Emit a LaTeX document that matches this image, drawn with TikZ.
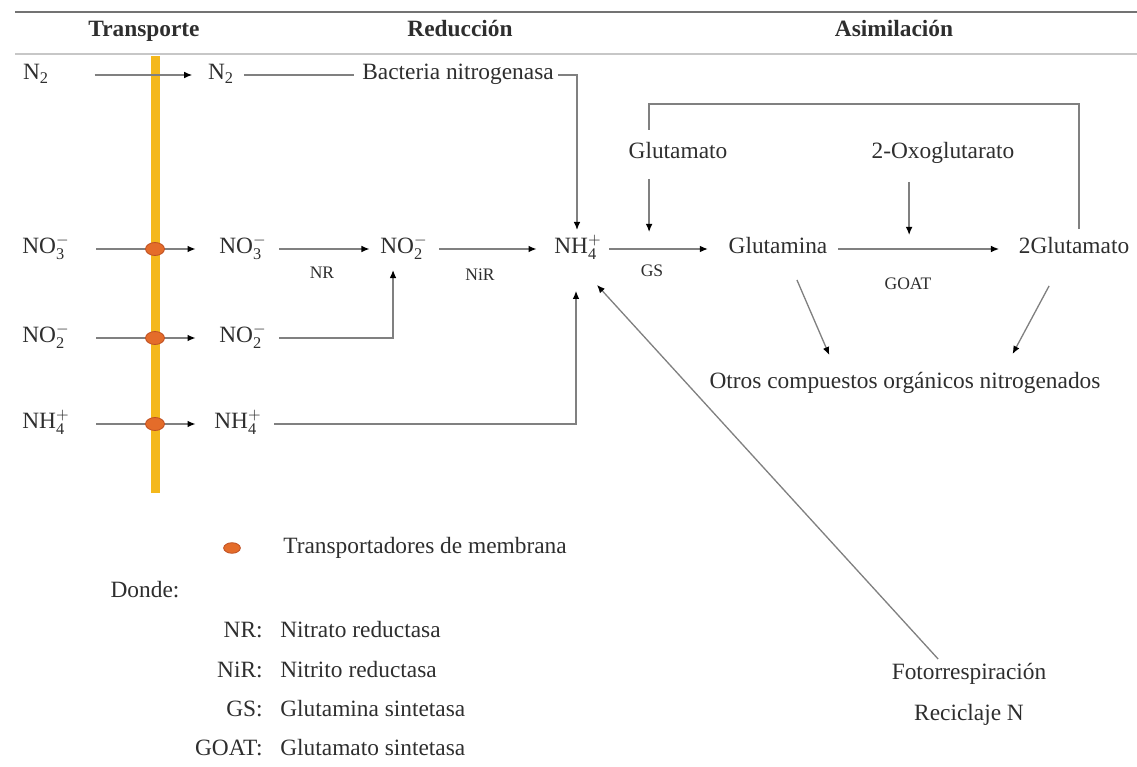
\documentclass[tikz,border=0pt]{standalone}
\usepackage{fontspec}
\setmainfont{Liberation Serif}
\usetikzlibrary{arrows.meta,shapes.geometric}
\def\px{*0.5669pt}
\definecolor{barc}{RGB}{244,184,28}
\definecolor{trc}{RGB}{228,108,42}
\definecolor{trd}{RGB}{190,80,35}
\begin{document}
\begin{tikzpicture}[x=0.02cm,y=-0.02cm,
  txt/.style={inner sep=0pt,font=\fontsize{13.3}{16}\selectfont,text=black!82,text height=8pt,text depth=3pt},
  hdr/.style={txt,font=\fontsize{13.3}{16}\selectfont\bfseries},
  sml/.style={txt,font=\fontsize{10}{12}\selectfont},
  ln/.style={draw=black!50,line width=0.75pt},
  arr/.style={ln,-{Latex[length=4.6pt,width=3.8pt,color=black]}},
  trn/.style={ellipse,fill=trc,draw=trd,line width=0.45pt,minimum width=10.8pt,minimum height=7.4pt,inner sep=0pt},
  tr/.style={arr,shorten <=26.5\px,shorten >=23.5\px}]
\useasboundingbox (0,0) rectangle (1137,767);
% header rules
\draw[black!55,line width=1.1pt] (15,12) -- (1137,12);
\draw[black!22,line width=1.7pt] (15,54) -- (1137,54);
\node[hdr] (hT) at (144,32) {Transporte};
\node[hdr] (hR) at (460,32) {Reducción};
\node[hdr] (hA) at (894,32) {Asimilación};
% membrane
\fill[barc] (150.5,56) rectangle (159.5,493);
% nodes
\node[txt] (n2l) at (36,75) {$\mathrm{N_2}$};
\node[txt] (n2r) at (221,75) {$\mathrm{N_2}$};
\node[txt] (bact) at (458,75) {Bacteria nitrogenasa};
\node[txt] (no3l) at (46,249) {$\mathrm{NO_3^-}$};
\node[txt] (no3r) at (243,249) {$\mathrm{NO_3^-}$};
\node[txt] (no2m) at (404,249) {$\mathrm{NO_2^-}$};
\node[txt] (nh4) at (578,249) {$\mathrm{NH_4^+}$};
\node[txt] (no2l) at (46,338) {$\mathrm{NO_2^-}$};
\node[txt] (no2r) at (243,338) {$\mathrm{NO_2^-}$};
\node[txt] (nh4l) at (46,424) {$\mathrm{NH_4^+}$};
\node[txt] (nh4r) at (238,424) {$\mathrm{NH_4^+}$};
\node[sml] (nr) at (322,274) {NR};
\node[sml] (nir) at (480,276) {NiR};
\node[txt] (glutamato) at (678,154) {Glutamato};
\node[txt] (oxo) at (943,154) {2-Oxoglutarato};
\node[txt] (glutamina) at (778,249) {Glutamina};
\node[txt] (glu2) at (1074,249) {2Glutamato};
\node[sml] (gs) at (652,272) {GS};
\node[sml] (goat) at (908,285) {GOAT};
\node[txt] (otros) at (905,384) {Otros compuestos orgánicos nitrogenados};
\node[txt] (foto) at (969,675) {Fotorrespiración};
\node[txt] (recic) at (969,716) {Reciclaje N};
% transport arrows
\draw[arr,shorten <=45.5\px,shorten >=15.5\px] (n2l) -- (n2r);
\draw[tr] (no3l) -- (no3r);
\draw[tr] (no2l) -- (no2r);
\draw[arr,shorten <=26.5\px,shorten >=18.5\px] (nh4l) -- (nh4r);
% reduction
\draw[ln,shorten <=9.5\px,shorten >=8\px] (n2r) -- (bact);
\draw[arr] ([xshift=4\px]bact.east) -| ([xshift=-1\px,yshift=9\px]nh4.north);
\draw[arr,shorten <=12.5\px,shorten >=10.5\px] (no3r) -- (no2m);
\draw[arr,shorten <=11.5\px,shorten >=17.5\px] (no2m) -- (nh4);
\draw[arr] ([xshift=12.5\px]no2r.east) -| ([xshift=-11\px,yshift=-11\px]no2m.south);
\draw[arr] ([xshift=12.5\px]nh4r.east) -| ([xshift=-2\px,yshift=-32\px]nh4.south);
% assimilation
\draw[arr,shorten <=7.5\px,shorten >=20.5\px] (nh4) -- (glutamina);
\draw[arr,shorten <=10.5\px,shorten >=19.5\px] (glutamina) -- (glu2);
\draw[ln] ([xshift=5\px,yshift=10\px]glu2.north) |- ([xshift=-29\px,yshift=40\px]glutamato.north) -- ([xshift=-29\px,yshift=14\px]glutamato.north);
\draw[arr,shorten <=15\px,shorten >=17\px] ([xshift=-29\px]glutamato.south) -- ([xshift=-29\px]glutamato.south |- glutamina.west);
\draw[arr,shorten <=18\px,shorten >=14\px] ([xshift=-34\px]oxo.south) -- ([xshift=-34\px]oxo.south |- glu2.west);
\draw[arr] ([xshift=19\px,yshift=-21\px]glutamina.south) -- ([xshift=-76\px,yshift=19\px]otros.north);
\draw[arr] ([xshift=-25\px,yshift=-27\px]glu2.south) -- ([xshift=108\px,yshift=20\px]otros.north);
\draw[arr] ([xshift=-31\px,yshift=6\px]foto.north) -- ([xshift=19\px,yshift=-26\px]nh4.south);
% transporters
\node[trn] (t1) at (155,249) {};
\node[trn] (t2) at (155,338) {};
\node[trn] (t3) at (155,424) {};
% legend
\node[trn,minimum width=9.5pt,minimum height=6pt] (leg) at (232,548) {};
\node[txt,anchor=west] (legt) at (283,549) {Transportadores de membrana};
\node[txt] (donde) at (145,593) {Donde:};
\node[txt,anchor=east] (a1) at (263,633) {NR:};
\node[txt,anchor=west] (d1) at (280,633) {Nitrato reductasa};
\node[txt,anchor=east] (a2) at (263,673) {NiR:};
\node[txt,anchor=west] (d2) at (280,673) {Nitrito reductasa};
\node[txt,anchor=east] (a3) at (263,712) {GS:};
\node[txt,anchor=west] (d3) at (280,712) {Glutamina sintetasa};
\node[txt,anchor=east] (a4) at (263,751) {GOAT:};
\node[txt,anchor=west] (d4) at (280,751) {Glutamato sintetasa};
\end{tikzpicture}
\end{document}
